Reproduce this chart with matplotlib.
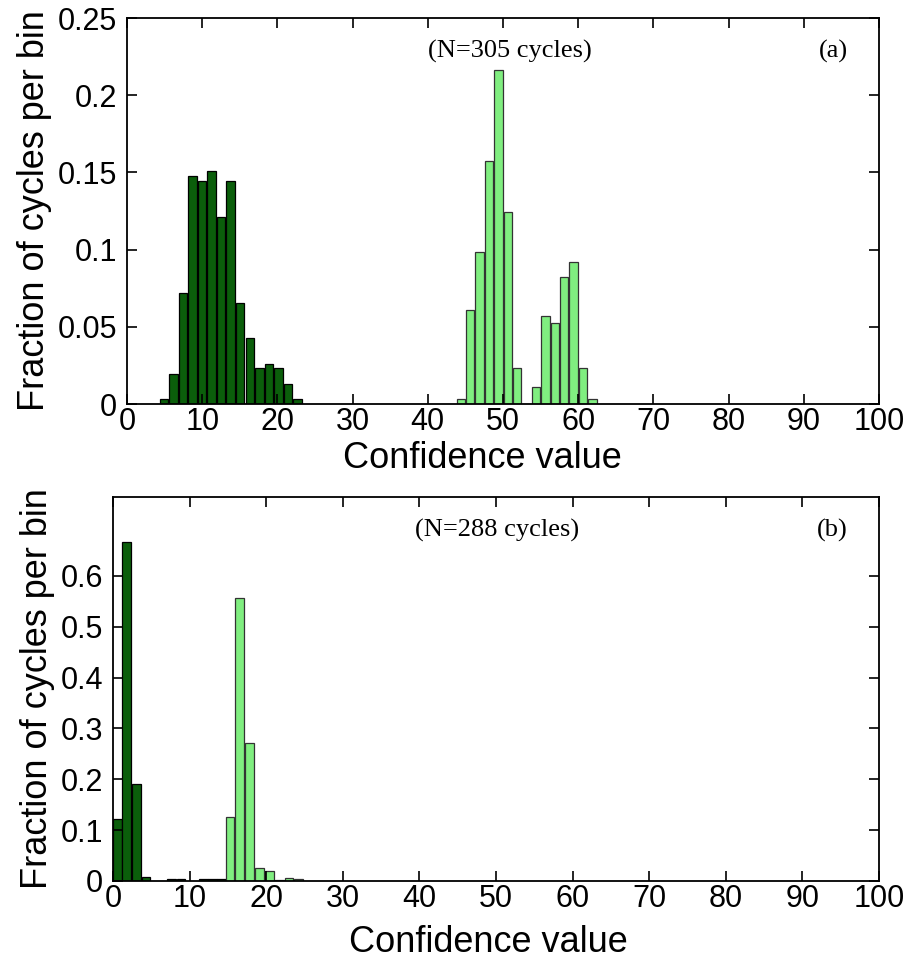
import matplotlib
matplotlib.use("Agg")
import matplotlib.pyplot as plt
from matplotlib.ticker import FuncFormatter

# ---------------- data ----------------
# Panel (a), N=305 cycles
a_dark_centers = [4.9, 6.17, 7.44, 8.71, 9.98, 11.25, 12.52, 13.79, 15.06, 16.33,
                  17.6, 18.87, 20.14, 21.41, 22.68]
a_dark_values = [0.0033, 0.0197, 0.0721, 0.1475, 0.1443, 0.1508, 0.1213, 0.1443,
                 0.0656, 0.0426, 0.0230, 0.0262, 0.0230, 0.0131, 0.0033]
a_light_centers = [44.4, 45.65, 46.9, 48.15, 49.4, 50.65, 51.9, 53.15, 54.4, 55.65,
                   56.9, 58.15, 59.4, 60.65, 61.9]
a_light_values = [0.0033, 0.0607, 0.0984, 0.1574, 0.2164, 0.1246, 0.0230, 0.0,
                  0.0110, 0.0570, 0.0525, 0.0820, 0.0918, 0.0230, 0.0033]

# Panel (b), N=288 cycles
b_dark_centers = [0.55, 1.8, 3.05, 4.3, 7.6, 8.9, 11.8, 13.0, 14.2]
b_dark_values = [0.1215, 0.6667, 0.1910, 0.0069, 0.0035, 0.0035, 0.0035, 0.0035, 0.0035]
b_light_centers = [15.3, 16.55, 17.8, 19.1, 20.4, 21.7, 23.0, 24.2]
b_light_values = [0.1250, 0.5556, 0.2708, 0.0260, 0.0191, 0.0020, 0.0060, 0.0035]

x_ticks = [0, 10, 20, 30, 40, 50, 60, 70, 80, 90, 100]
a_y_ticks = [0, 0.05, 0.1, 0.15, 0.2, 0.25]
b_y_ticks = [0, 0.1, 0.2, 0.3, 0.4, 0.5, 0.6]

xlabel = "Confidence value"
ylabel = "Fraction of cycles per bin"
a_note = "(N=305 cycles)"
b_note = "(N=288 cycles)"

dark_fill = "#0b5e0b"
light_fill = "#80ee80"

# ---------------- figure ----------------
plt.rcParams["font.family"] = ["Liberation Sans", "DejaVu Sans"]
fig = plt.figure(figsize=(9.09, 9.65), dpi=100)
W, H = 909, 965

def axes_px(left, right, top, bottom):
    return fig.add_axes([left / W, 1 - bottom / H, (right - left) / W, (bottom - top) / H])

ax_a = axes_px(127, 879, 18, 404)
ax_b = axes_px(113, 879, 497, 881)

def style(ax, yticks, ylim, xl_x, xl_y):
    ax.set_xlim(0, 100)
    ax.set_ylim(0, ylim)
    ax.set_xticks(x_ticks)
    ax.set_yticks(yticks)
    ax.yaxis.set_major_formatter(FuncFormatter(lambda v, p: "%g" % round(v, 3)))
    ax.tick_params(direction="in", length=7, width=1.2, top=True, right=True,
                   labelsize=22)
    ax.tick_params(axis="y", pad=7)
    ax.tick_params(axis="x", pad=2)
    for s in ax.spines.values():
        s.set_linewidth(1.3)
    ax.set_xlabel(xlabel, fontsize=26)
    ax.xaxis.label.set_va("center")
    ax.xaxis.set_label_coords(xl_x, xl_y)
    ax.set_ylabel(ylabel, fontsize=26, labelpad=4)

bw = 1.12
ax_a.bar(a_dark_centers, a_dark_values, width=bw, color=dark_fill, edgecolor="black", linewidth=0.9)
ax_a.bar(a_light_centers, a_light_values, width=bw, color=light_fill, edgecolor="#333333", linewidth=0.9)
style(ax_a, a_y_ticks, 0.25, 0.472, -0.142)
ax_a.text(0.509, 0.913, a_note, transform=ax_a.transAxes, ha="center", va="center",
          fontsize=19, family="Liberation Serif")
ax_a.text(0.94, 0.913, "(a)", transform=ax_a.transAxes, ha="center", va="center",
          fontsize=19, family="Liberation Serif")

ax_b.bar(b_dark_centers, b_dark_values, width=bw, color=dark_fill, edgecolor="black", linewidth=0.9)
ax_b.bar(b_light_centers, b_light_values, width=bw, color=light_fill, edgecolor="#333333", linewidth=0.9)
style(ax_b, b_y_ticks, 0.755, 0.49, -0.16)
ax_b.text(0.501, 0.914, b_note, transform=ax_b.transAxes, ha="center", va="center",
          fontsize=19, family="Liberation Serif")
ax_b.text(0.939, 0.914, "(b)", transform=ax_b.transAxes, ha="center", va="center",
          fontsize=19, family="Liberation Serif")

fig.savefig("out.png", dpi=100, facecolor="white")
